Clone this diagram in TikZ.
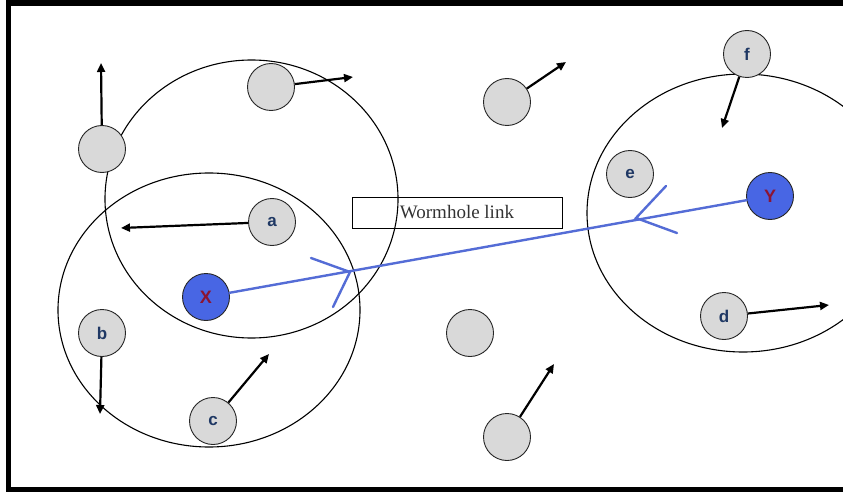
\documentclass[tikz,border=0pt]{standalone}
\usepackage{fontspec}
\setmainfont{Liberation Serif}
\newfontfamily\lettersf{Liberation Sans}
\usetikzlibrary{arrows.meta}
\definecolor{nodegray}{RGB}{217,217,217}
\definecolor{letterblue}{RGB}{31,56,100}
\definecolor{xyblue}{RGB}{72,102,228}
\definecolor{xyred}{RGB}{140,20,50}
\definecolor{linkblue}{RGB}{84,108,214}
\begin{document}
\begin{tikzpicture}[x=1pt,y=-1pt,
  host/.style={circle, draw=black!85, line width=0.9pt, fill=nodegray, minimum size=47pt, inner sep=0pt,
    font=\lettersf\bfseries\fontsize{17}{17}\selectfont, text=letterblue},
  endpt/.style={host, fill=xyblue, text=xyred, font=\lettersf\bfseries\fontsize{18}{18}\selectfont},
  hostrange/.style={draw=black, line width=1.1pt},
  motion/.style={line width=2.2pt, -{Triangle[length=9pt,width=8pt]}},
  tunnel/.style={draw=linkblue, line width=2.4pt, line cap=round},
]
\useasboundingbox (0,0) rectangle (843,492);
\fill[white] (0,0) rectangle (843,492);
\clip (0,0) rectangle (843,492);
% frame
\fill[black] (6,0) rectangle (843,6);
\fill[black] (6,0) rectangle (11,492);
\fill[black] (6,487) rectangle (843,492);
% radio ranges
\draw[hostrange] (251.5,199) ellipse [x radius=146.5pt, y radius=139pt];
\draw[hostrange] (209,310) ellipse [x radius=151pt, y radius=137pt];
\draw[hostrange] (743,213) ellipse [x radius=156pt, y radius=139pt];
% wormhole label
\node[draw=black, line width=1pt, minimum width=210pt, minimum height=31pt, inner sep=0pt,
  font=\fontsize{19}{19}\selectfont, text=black!80] (wl) at (457,212.5) {Wormhole link};
% hosts
\node[host] (g1) at (102,149) {};
\node[host] (g2) at (271,87) {};
\node[host] (a) at (272,222) {a};
\node[host] (g3) at (507,102) {};
\node[host] (f) at (747,54) {f};
\node[host] (e) at (630,174) {e};
\node[host] (b) at (102,333) {b};
\node[host] (c) at (213,421) {c};
\node[host] (g4) at (470,333) {};
\node[host] (g5) at (507,437) {};
\node[host] (d) at (724,316) {d};
\node[endpt] (X) at (206,297) {X};
\node[endpt] (Y) at (770,196) {Y};
% movement arrows
\coordinate (t1) at (101,63);
\coordinate (t2) at (353,77);
\coordinate (ta) at (121,228);
\coordinate (t3) at (566,62);
\coordinate (tf) at (722,128);
\coordinate (tb) at (100,414);
\coordinate (tc) at (269,354);
\coordinate (t5) at (554,364);
\coordinate (td) at (829,305);
\draw[motion] (g1) -- (t1);
\draw[motion] (g2) -- (t2);
\draw[motion] (a) -- (ta);
\draw[motion] (g3) -- (t3);
\draw[motion] (f) -- (tf);
\draw[motion] (b) -- (tb);
\draw[motion] (c) -- (tc);
\draw[motion] (g5) -- (t5);
\draw[motion] (d) -- (td);
% wormhole tunnel
\draw[tunnel] (X) -- (Y);
\coordinate (v1) at (350,272);
\coordinate (v1a) at (311,258);
\coordinate (v1b) at (333,307);
\coordinate (v2) at (636,218);
\coordinate (v2a) at (666,186);
\coordinate (v2b) at (677,233);
\draw[tunnel] (v1a) -- (v1) -- (v1b);
\draw[tunnel] (v2a) -- (v2) -- (v2b);
\end{tikzpicture}
\end{document}
